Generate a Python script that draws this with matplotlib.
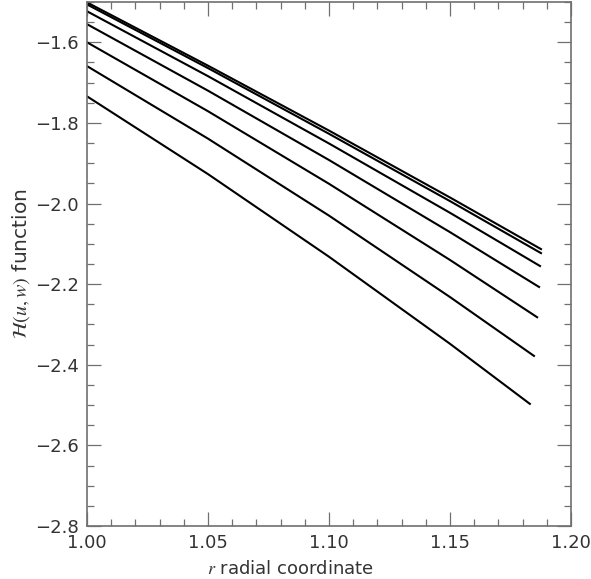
import matplotlib
matplotlib.use("Agg")
import matplotlib.pyplot as plt
from matplotlib.ticker import MultipleLocator, FuncFormatter

plt.rcParams['mathtext.fontset'] = 'stix'

# radius samples (last one is where each curve stops)
r_mid = [1.00, 1.05, 1.10, 1.15]
r_end = [1.1876, 1.1876, 1.1872, 1.1868, 1.1860, 1.1847, 1.1830]

# H(u,w) at r_mid, then at r_end
h1 = [-1.501, -1.658, -1.819, -1.985, -2.113]
h2 = [-1.506, -1.664, -1.827, -1.994, -2.123]
h3 = [-1.523, -1.684, -1.851, -2.023, -2.155]
h4 = [-1.555, -1.720, -1.892, -2.071, -2.207]
h5 = [-1.600, -1.771, -1.951, -2.140, -2.282]
h6 = [-1.659, -1.839, -2.030, -2.232, -2.378]
h7 = [-1.734, -1.927, -2.132, -2.348, -2.497]
curves = [h1, h2, h3, h4, h5, h6, h7]

fig = plt.figure(figsize=(5.91, 5.79), dpi=100)
ax = fig.add_axes([87/591, 53/579, 484/591, 524/579])

for h, re in zip(curves, r_end):
    ax.plot(r_mid + [re], h, color='black', lw=1.5)

ax.set_xlim(1.0, 1.2)
ax.set_ylim(-2.8, -1.5)
ax.xaxis.set_major_locator(MultipleLocator(0.05))
ax.xaxis.set_minor_locator(MultipleLocator(0.01))
ax.yaxis.set_major_locator(MultipleLocator(0.2))
ax.yaxis.set_minor_locator(MultipleLocator(0.05))
ax.xaxis.set_major_formatter(FuncFormatter(lambda v, p: '%.2f' % v))
ax.yaxis.set_major_formatter(FuncFormatter(lambda v, p: ('%.1f' % v).replace('-', '\u2212')))

gray = '#707070'
for s in ax.spines.values():
    s.set_color(gray)
    s.set_linewidth(1.2)
ax.tick_params(which='both', direction='in', top=True, right=True,
               color=gray, width=0.9, labelsize=13, labelcolor='#333333')
ax.tick_params(which='major', length=10, pad=6)
ax.tick_params(which='minor', length=5)

ax.set_xlabel(r'$r$ radial coordinate', fontsize=13, color='#333333', labelpad=4)
ax.xaxis.set_label_coords(0.42, -0.065)
ax.set_ylabel(r'$\mathcal{H}(u,w)$ function', fontsize=14.5, color='#333333', labelpad=2)

fig.savefig('out.png', dpi=100)
